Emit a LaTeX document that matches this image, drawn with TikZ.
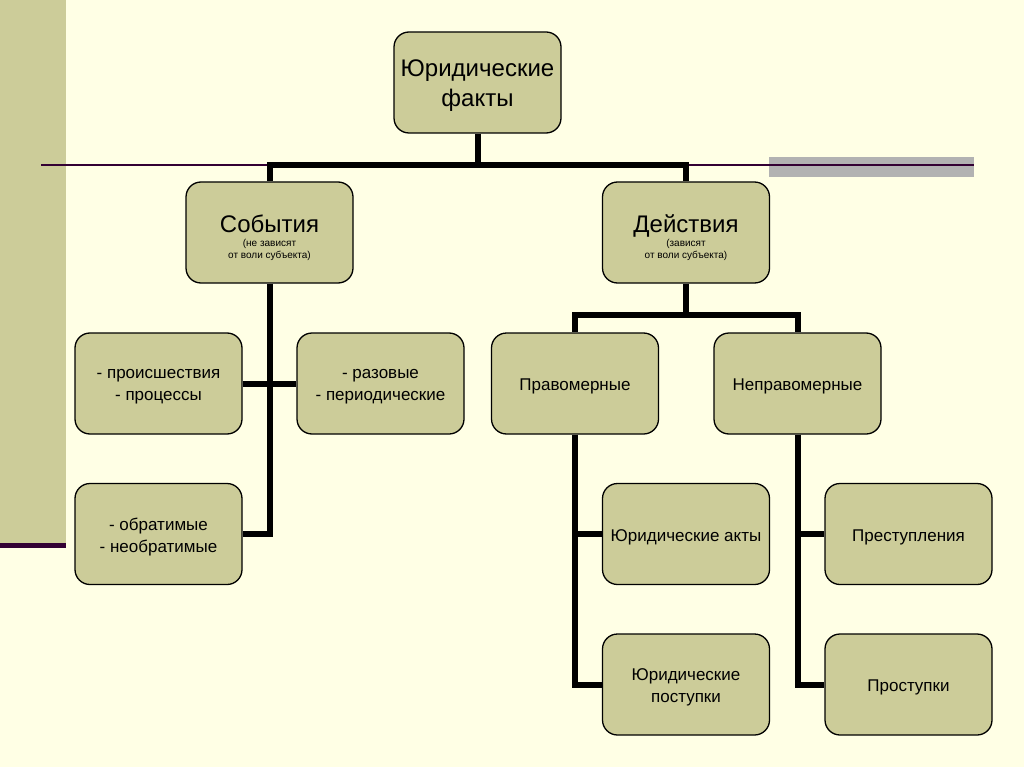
\documentclass[tikz,border=0pt]{standalone}
\usepackage{fontspec}
\setmainfont{Liberation Sans}
\definecolor{bgc}{HTML}{FFFFE5}
\definecolor{boxc}{HTML}{CCCC99}
\definecolor{purp}{HTML}{330033}
\definecolor{grayb}{HTML}{B2B2B2}
\newcommand{\subnote}[1]{{\fontsize{10}{12.5}\selectfont\begin{tabular}{@{}c@{}}#1\end{tabular}}}
\begin{document}
\begin{tikzpicture}[x=1pt,y=-1pt,
  box/.style={draw=black, line width=1.3pt, fill=boxc, rounded corners=15pt,
    minimum width=167pt, minimum height=101pt},
  txt/.style={align=center, inner sep=0pt, text=black, font=\fontsize{17}{21.5}\selectfont, yshift=-3pt},
  bigtxt/.style={txt, font=\fontsize{24}{30}\selectfont},
  conn/.style={line width=6pt, black}]
\useasboundingbox (0,0) rectangle (1024,767);
\fill[bgc] (0,0) rectangle (1024,767);
% decorations
\fill[boxc] (0,0) rectangle (66,544);
\fill[purp] (0,543) rectangle (66,548);
\fill[grayb] (769,157) rectangle (974,177);
\draw[purp, line width=2pt] (41,165) -- (974,165);
% nodes
\node[box, label={[bigtxt]center:{Юридические\\факты}}] (jf) at (477.5,82.5) {};
\node[box, label={[bigtxt, yshift=-3pt]center:{События\\[-10pt]\subnote{(не зависят\\от воли субъекта)}}}] (sob) at (269.5,232.5) {};
\node[box, label={[bigtxt, yshift=-3pt]center:{Действия\\[-10pt]\subnote{(зависят\\от воли субъекта)}}}] (dei) at (686,232.5) {};
\node[box, label={[txt]center:{- происшествия\\- процессы}}] (pro) at (158.5,383.5) {};
\node[box, label={[txt]center:{- разовые\\- периодические}}] (raz) at (380.5,383.5) {};
\node[box, label={[txt]center:{- обратимые\\- необратимые}}] (obr) at (158.5,534) {};
\node[box, label={[txt]center:{Правомерные}}] (prv) at (575,383.5) {};
\node[box, label={[txt]center:{Неправомерные}}] (npr) at (797.5,383.5) {};
\node[box, label={[txt]center:{Юридические акты}}] (ja) at (686,534) {};
\node[box, label={[txt]center:{Юридические\\поступки}}] (jp) at (686,684.5) {};
\node[box, label={[txt]center:{Преступления}}] (prs) at (908.5,534) {};
\node[box, label={[txt]center:{Проступки}}] (pst) at (908.5,684.5) {};
% connectors
\coordinate (t1) at (477.5,165);
\coordinate (t2) at (686,315);
\draw[conn] (jf.south) -- (t1);
\draw[conn] (t1) -| (sob.north);
\draw[conn] (t1) -| (dei.north);
\draw[conn] (sob.south) |- (obr.east);
\draw[conn] (pro.east) -- (raz.west);
\draw[conn] (dei.south) -- (t2);
\draw[conn] (t2) -| (prv.north);
\draw[conn] (t2) -| (npr.north);
\draw[conn] (prv.south) |- (ja.west);
\draw[conn] (prv.south) |- (jp.west);
\draw[conn] (npr.south) |- (prs.west);
\draw[conn] (npr.south) |- (pst.west);
\end{tikzpicture}
\end{document}
